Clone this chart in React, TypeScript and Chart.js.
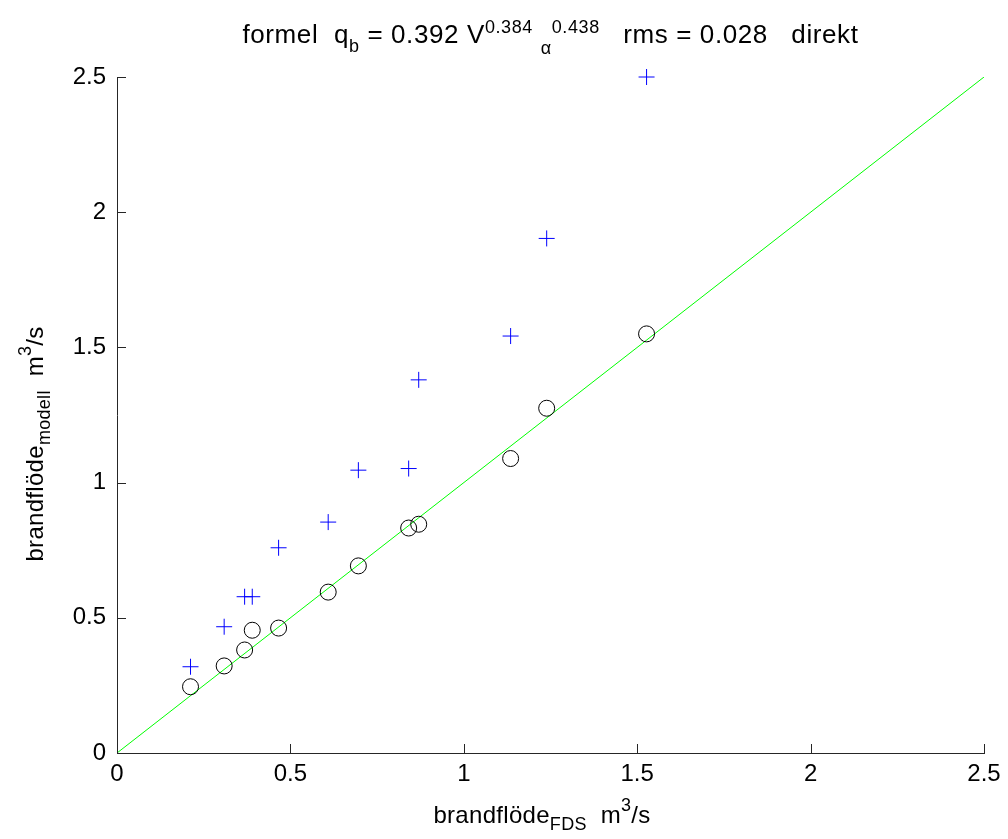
import React, { useEffect, useRef } from "react";
import { Chart, registerables } from "chart.js";

Chart.register(...registerables);

// ---- data (m^3/s) ----
const flowFDS = [0.212, 0.309, 0.368, 0.39, 0.466, 0.609, 0.696, 0.841, 0.87, 1.135, 1.239, 1.527];
const flowFormula = [0.245, 0.322, 0.381, 0.454, 0.462, 0.595, 0.692, 0.832, 0.846, 1.089, 1.275, 1.55];
const flowDirect = [0.319, 0.467, 0.578, 0.578, 0.759, 0.854, 1.046, 1.052, 1.38, 1.542, 1.903, 2.5];
const identityLine = [0, 2.5];
const axisTicks = [0, 0.5, 1, 1.5, 2, 2.5];

const FONT = '"Liberation Sans", Arial, Helvetica, sans-serif';
const AXIS_COLOR = "#262626";

type Seg = { t: string; k?: "sub" | "sup"; dy?: number };

const titleSegs: Seg[] = [
  { t: "formel  q" },
  { t: "b", k: "sub" },
  { t: " = 0.392 V" },
  { t: "0.384", k: "sup" },
  { t: " " },
  { t: "\u03B1", k: "sub", dy: 11 },
  { t: "0.438", k: "sup" },
  { t: "   rms = 0.028   direkt" },
];
const xLabelSegs: Seg[] = [
  { t: "brandflöde" },
  { t: "FDS", k: "sub" },
  { t: "  m" },
  { t: "3", k: "sup" },
  { t: "/s" },
];
const yLabelSegs: Seg[] = [
  { t: "brandflöde" },
  { t: "modell", k: "sub" },
  { t: "  m" },
  { t: "3", k: "sup" },
  { t: "/s" },
];

type RichOpts = { size: number; small: number; subDy: number; supDy: number; spacing: number };

function drawRich(ctx: CanvasRenderingContext2D, segs: Seg[], cx: number, by: number, o: RichOpts) {
  const anyCtx = ctx as any;
  const parts = segs.map((s) => {
    const size = s.k ? o.small : o.size;
    ctx.font = `${size}px ${FONT}`;
    anyCtx.letterSpacing = `${o.spacing}px`;
    return { ...s, size, w: ctx.measureText(s.t).width };
  });
  const total = parts.reduce((a, p) => a + p.w, 0);
  let x = cx - total / 2;
  ctx.textAlign = "left";
  ctx.textBaseline = "alphabetic";
  ctx.fillStyle = "#000";
  for (const p of parts) {
    ctx.font = `${p.size}px ${FONT}`;
    anyCtx.letterSpacing = `${o.spacing}px`;
    const dy = p.dy !== undefined ? p.dy : p.k === "sub" ? o.subDy : p.k === "sup" ? o.supDy : 0;
    ctx.fillText(p.t, x, by + dy);
    x += p.w;
  }
  anyCtx.letterSpacing = "0px";
}

const matlabDecor = {
  id: "matlabDecor",
  afterDraw(chart: any) {
    const { ctx, chartArea, scales } = chart;
    const xs = scales.x;
    const ys = scales.y;
    ctx.save();
    // inward tick marks
    ctx.strokeStyle = AXIS_COLOR;
    ctx.lineWidth = 1;
    ctx.beginPath();
    for (const v of axisTicks) {
      const px = Math.round(xs.getPixelForValue(v)) + 0.5;
      ctx.moveTo(px, chartArea.bottom);
      ctx.lineTo(px, chartArea.bottom - 9);
      const py = Math.round(ys.getPixelForValue(v)) + 0.5;
      ctx.moveTo(chartArea.left, py);
      ctx.lineTo(chartArea.left + 9, py);
    }
    ctx.stroke();

    // title
    drawRich(ctx, titleSegs, (chartArea.left + chartArea.right) / 2, 43, {
      size: 26,
      small: 18,
      subDy: 9,
      supDy: -10,
      spacing: 0.6,
    });
    // x label
    drawRich(ctx, xLabelSegs, 542, 823, { size: 24, small: 18, subDy: 7, supDy: -12, spacing: 0.3 });
    // y label
    ctx.save();
    ctx.translate(43, 444);
    ctx.rotate(-Math.PI / 2);
    drawRich(ctx, yLabelSegs, 0, 0, { size: 24, small: 18, subDy: 7, supDy: -12, spacing: 0.3 });
    ctx.restore();
    ctx.restore();
  },
};

export default function App() {
  const ref = useRef<HTMLCanvasElement | null>(null);

  useEffect(() => {
    if (!ref.current) return;
    const chart = new Chart(ref.current, {
      type: "scatter",
      data: {
        datasets: [
          {
            label: "identity",
            data: identityLine.map((v) => ({ x: v, y: v })),
            showLine: true,
            borderColor: "#00ff00",
            borderWidth: 1,
            pointRadius: 0,
            fill: false,
            order: 3,
          } as any,
          {
            label: "direkt",
            data: flowFDS.map((x, i) => ({ x, y: flowDirect[i] })),
            pointStyle: "cross",
            pointRadius: 8,
            pointBorderWidth: 1,
            borderColor: "#0000ff",
            backgroundColor: "#0000ff",
            clip: false,
            order: 2,
          } as any,
          {
            label: "formel",
            data: flowFDS.map((x, i) => ({ x, y: flowFormula[i] })),
            pointStyle: "circle",
            pointRadius: 8,
            pointBorderWidth: 1,
            borderColor: "#000000",
            backgroundColor: "rgba(0,0,0,0)",
            clip: false,
            order: 1,
          } as any,
        ],
      },
      options: {
        animation: false,
        responsive: false,
        devicePixelRatio: 1,
        events: [],
        layout: { padding: { top: 77, right: 24, bottom: 0, left: 0 } },
        plugins: {
          legend: { display: false },
          title: { display: false },
          tooltip: { enabled: false },
        },
        scales: {
          x: {
            type: "linear",
            min: 0,
            max: 2.5,
            afterBuildTicks: (s: any) => {
              s.ticks = axisTicks.map((v) => ({ value: v }));
            },
            afterFit: (s: any) => {
              s.height = 86;
              s.paddingLeft = 0;
              s.paddingRight = 0;
            },
            grid: { display: true, drawOnChartArea: false, drawTicks: false },
            border: { display: true, color: AXIS_COLOR, width: 1 },
            ticks: {
              padding: 7,
              color: "#000",
              font: { family: FONT, size: 24 },
              maxRotation: 0,
              autoSkip: false,
              callback: (v: any) => String(v),
            },
          },
          y: {
            type: "linear",
            min: 0,
            max: 2.5,
            afterBuildTicks: (s: any) => {
              s.ticks = axisTicks.map((v) => ({ value: v }));
            },
            afterFit: (s: any) => {
              s.width = 117;
              s.paddingTop = 0;
              s.paddingBottom = 0;
            },
            grid: { display: true, drawOnChartArea: false, drawTicks: false },
            border: { display: true, color: AXIS_COLOR, width: 1 },
            ticks: {
              padding: 11,
              color: "#000",
              font: { family: FONT, size: 24 },
              autoSkip: false,
              callback: (v: any) => String(v),
            },
          },
        },
      } as any,
      plugins: [matlabDecor],
    });
    return () => chart.destroy();
  }, []);

  return (
    <div style={{ position: "absolute", left: 0, top: 0, width: 1008, height: 839, background: "#fff" }}>
      <canvas ref={ref} width={1008} height={839} style={{ display: "block", width: 1008, height: 839 }} />
    </div>
  );
}
